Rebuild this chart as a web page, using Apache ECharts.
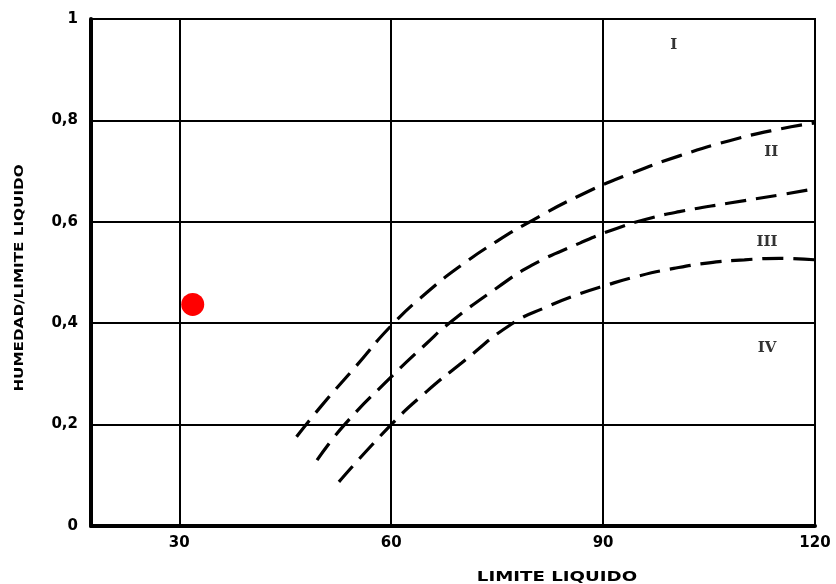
<!DOCTYPE html>
<html>
<head>
<meta charset="utf-8">
<script src="https://cdn.jsdelivr.net/npm/echarts@6/dist/echarts.min.js"></script>
<style>html,body{margin:0;padding:0;background:#fff;}#c{width:836px;height:584px;}</style>
</head>
<body>
<div id="c"></div>
<script>
var xTicks = [30, 60, 90, 120];
var yTicks = [0, 0.2, 0.4, 0.6, 0.8, 1];
var curveII = [[46.6,0.176],[50,0.235],[55,0.315],[60,0.395],[65,0.46],[70,0.515],[75,0.562],[80,0.603],[86.7,0.652],[93.7,0.694],[100.8,0.73],[107.9,0.76],[115,0.783],[120,0.795]];
var curveIII = [[49.5,0.13],[53.4,0.2],[60,0.294],[65,0.36],[68.2,0.4],[75,0.47],[80,0.515],[86.7,0.558],[91.3,0.584],[96.1,0.605],[100.8,0.62],[107.9,0.637],[115,0.653],[120,0.665]];
var curveIV = [[52.6,0.087],[60,0.2],[65,0.265],[70,0.322],[77,0.398],[82,0.432],[86.7,0.458],[90,0.473],[95,0.493],[100,0.508],[105,0.519],[110,0.525],[115,0.528],[120,0.525]];
var zoneLabels = [
  {name:'I', value:[100, 0.949]},
  {name:'II', value:[113.8, 0.738]},
  {name:'III', value:[113.2, 0.56]},
  {name:'IV', value:[113.2, 0.351]}
];
var sample = [[31.9, 0.437]];

var chart = echarts.init(document.getElementById('c'));
var dashStyle = {color:'#000', width:3.2, type:[21,10], cap:'butt'};
function curve(d){
  return {type:'line', data:d, smooth:0.5, showSymbol:false, symbol:'none', lineStyle:dashStyle, silent:true, z:3};
}
chart.setOption({
  animation:false,
  backgroundColor:'#fff',
  grid:{left:91, right:21, top:19, bottom:58, show:true, borderColor:'#000', borderWidth:2, backgroundColor:'transparent'},
  xAxis:{
    type:'value', min:17.5, max:120,
    axisLine:{show:true, lineStyle:{color:'#000', width:4}},
    axisTick:{show:false, customValues:xTicks},
    splitLine:{show:true, lineStyle:{color:'#000', width:2}},
    axisLabel:{customValues:xTicks, color:'#000', fontFamily:'DejaVu Sans', fontWeight:'bold', fontSize:15, margin:10}
  },
  yAxis:{
    type:'value', min:0, max:1, interval:0.2,
    axisLine:{show:true, lineStyle:{color:'#000', width:4}},
    axisTick:{show:false},
    splitLine:{show:true, lineStyle:{color:'#000', width:2}},
    axisLabel:{color:'#000', fontFamily:'DejaVu Sans', fontWeight:'bold', fontSize:15, margin:13,
      formatter:function(v){ return String(Math.round(v*10)/10).replace('.', ','); }}
  },
  graphic:[
    {type:'text', x:557, y:577, scaleX:1.3, style:{text:'LIMITE LIQUIDO', fill:'#000', font:'bold 14px "DejaVu Sans"', align:'center', verticalAlign:'middle'}},
    {type:'text', x:20, y:278, rotation:Math.PI/2, scaleX:1.17, style:{text:'HUMEDAD/LIMITE LIQUIDO', fill:'#000', font:'bold 13px "DejaVu Sans"', align:'center', verticalAlign:'middle'}}
  ],
  series:[
    curve(curveII), curve(curveIII), curve(curveIV),
    {type:'scatter', data:zoneLabels, symbolSize:0, silent:true, z:4,
      label:{show:true, position:'inside', formatter:'{b}', color:'#000', fontFamily:'DejaVu Serif', fontWeight:'bold', fontSize:15}},
    {type:'scatter', data:sample, symbol:'circle', symbolSize:23, itemStyle:{color:'#ff0000', opacity:1}, silent:true, z:5}
  ]
});
</script>
</body>
</html>
